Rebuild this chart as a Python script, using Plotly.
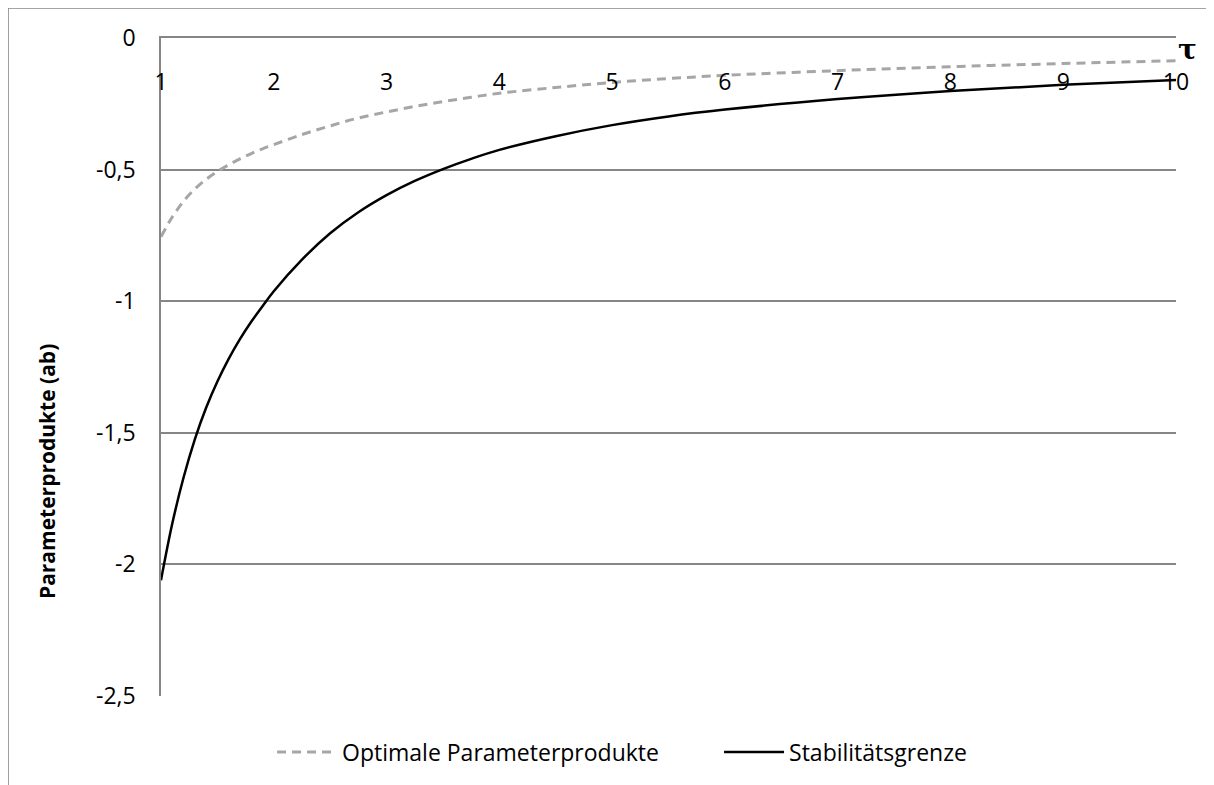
import plotly.graph_objects as go

# ---- data ----
tau = [1.0, 1.1, 1.2, 1.3, 1.4, 1.5, 1.6, 1.7, 1.8, 1.9, 2.0,
       2.25, 2.5, 2.75, 3.0, 3.25, 3.5, 3.75, 4.0,
       4.5, 5.0, 5.5, 6.0, 7.0, 8.0, 9.0, 10.0]

optimal = [-0.755, -0.680, -0.620, -0.574, -0.537, -0.507, -0.482, -0.459, -0.439, -0.421, -0.405,
           -0.367, -0.334, -0.304, -0.281, -0.260, -0.242, -0.225, -0.210,
           -0.188, -0.169, -0.154, -0.142, -0.124, -0.109, -0.097, -0.086]

stability = [-2.060, -1.845, -1.670, -1.525, -1.405, -1.305, -1.219, -1.144, -1.078, -1.019, -0.962,
             -0.842, -0.742, -0.662, -0.597, -0.543, -0.498, -0.459, -0.425,
             -0.373, -0.331, -0.298, -0.272, -0.232, -0.201, -0.178, -0.160]

series_names = ["Optimale Parameterprodukte", "Stabilitätsgrenze"]

x_ticks = [1, 2, 3, 4, 5, 6, 7, 8, 9, 10]
x_ticktext = ["1", "2", "3", "4", "5", "6", "7", "8", "9", "10"]
y_ticks = [0, -0.5, -1, -1.5, -2, -2.5]
y_ticktext = ["0", "-0,5", "-1", "-1,5", "-2", "-2,5"]

y_title = "Parameterprodukte (ab)"
x_symbol = "τ"

FONT = "Open Sans"
GRID = "#868686"

fig = go.Figure()
fig.add_trace(go.Scatter(
    x=tau, y=optimal, mode="lines", name=series_names[0],
    line=dict(color="#a6a6a6", width=3, dash="9px,6px", shape="spline", smoothing=1.0),
))
fig.add_trace(go.Scatter(
    x=tau, y=stability, mode="lines", name=series_names[1],
    line=dict(color="#000000", width=2.5, shape="spline", smoothing=1.0),
))
# invisible helper trace so the label axis (xaxis2) is drawn
fig.add_trace(go.Scatter(
    x=tau, y=stability, xaxis="x2", yaxis="y", mode="lines", opacity=0,
    showlegend=False, hoverinfo="skip", line=dict(width=0),
))

fig.update_layout(
    width=1214, height=785,
    margin=dict(l=153, r=46, t=30, b=97, autoexpand=False),
    paper_bgcolor="white", plot_bgcolor="white",
    font=dict(family=FONT, size=23, color="#000000"),
    showlegend=True,
    legend=dict(orientation="h", x=0.1094, xanchor="left", y=-0.085, yanchor="middle",
                font=dict(family=FONT, size=23, color="#000000"),
                bgcolor="rgba(0,0,0,0)", itemwidth=60, entrywidth=372, entrywidthmode="pixels"),
    xaxis=dict(
        range=[1, 10], side="top", tickmode="array", tickvals=x_ticks,
        showticklabels=False, automargin=False,
        showgrid=False, zeroline=False, showline=True, linecolor=GRID, linewidth=1.5,
        ticks="",
    ),
    xaxis2=dict(
        range=[1, 10], overlaying="x", anchor="free", position=0.9574, side="bottom",
        tickmode="array", tickvals=x_ticks, ticktext=x_ticktext, automargin=False,
        showgrid=False, zeroline=False, showline=False, ticks="",
        tickfont=dict(family=FONT, size=23, color="#000000"),
    ),
    yaxis=dict(
        range=[-2.5, 0], tickmode="array", tickvals=y_ticks, ticktext=y_ticktext,
        showgrid=True, gridcolor=GRID, gridwidth=1.5, zeroline=False, automargin=False,
        showline=True, linecolor=GRID, linewidth=1.5, ticks="",
        ticklabelstandoff=19,
        tickfont=dict(family=FONT, size=23, color="#000000"),
    ),
    annotations=[
        dict(text="<b>" + y_title + "</b>", textangle=-90, xref="paper", yref="paper",
             x=-0.1123, y=0.3404, xanchor="center", yanchor="middle", showarrow=False,
             font=dict(family=FONT, size=21, color="#000000")),
        dict(text="<b>" + x_symbol + "</b>", xref="paper", yref="paper",
             x=1.0118, y=0.982, xanchor="center", yanchor="middle", showarrow=False,
             font=dict(family="DejaVu Serif", size=28, color="#000000")),
    ],
    shapes=[
        dict(type="line", xref="paper", yref="paper", x0=-0.1507, x1=1.06, y0=1.0456, y1=1.0456,
             line=dict(color=GRID, width=1.5)),
        dict(type="line", xref="paper", yref="paper", x0=-0.1507, x1=-0.1507, y0=1.0456, y1=-0.16,
             line=dict(color=GRID, width=1.5)),
    ],
)

fig.write_html("out.html")
